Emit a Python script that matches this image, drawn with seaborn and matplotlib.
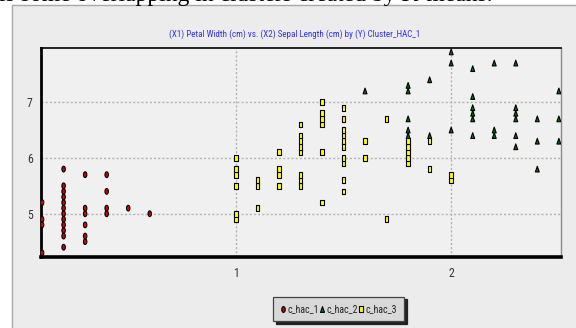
import numpy as np
import pandas as pd
import matplotlib
matplotlib.use("Agg")
import matplotlib.pyplot as plt
from matplotlib.path import Path
from matplotlib.patches import Rectangle
import matplotlib.transforms as mtransforms
from matplotlib.ticker import MultipleLocator
from matplotlib import font_manager
import seaborn as sns

# Petal width (cm) -> sepal lengths (cm) for each HAC cluster
c_hac_1 = {
    0.1: [4.3, 4.8, 4.9, 5.2],
    0.2: [4.4, 4.6, 4.7, 4.8, 4.9, 5.0, 5.1, 5.2, 5.3, 5.4, 5.5, 5.8],
    0.3: [4.5, 4.6, 4.8, 5.0, 5.1, 5.7],
    0.4: [5.0, 5.1, 5.4, 5.7],
    0.5: [5.1],
    0.6: [5.0],
}
c_hac_2 = {
    1.6: [7.2],
    1.8: [6.4, 6.5, 6.7, 7.2, 7.3],
    1.9: [6.4, 7.4],
    2.0: [6.5, 7.7, 7.9],
    2.1: [6.4, 6.7, 6.8, 6.9, 7.1, 7.6],
    2.2: [6.4, 6.5, 7.7],
    2.3: [6.2, 6.4, 6.7, 6.8, 6.9, 7.7],
    2.4: [5.8, 6.3, 6.7],
    2.5: [6.3, 6.7, 7.2],
}
c_hac_3 = {
    1.0: [4.9, 5.0, 5.5, 5.7, 5.8, 6.0],
    1.1: [5.1, 5.5, 5.6],
    1.2: [5.5, 5.7, 5.8, 6.1],
    1.3: [5.5, 5.6, 5.7, 6.1, 6.2, 6.3, 6.4, 6.6],
    1.4: [5.2, 6.1, 6.6, 6.7, 6.8, 7.0],
    1.5: [5.4, 5.6, 5.9, 6.0, 6.2, 6.3, 6.4, 6.5, 6.7, 6.9],
    1.6: [6.0, 6.3],
    1.7: [4.9, 6.7],
    1.8: [5.9, 6.0, 6.1, 6.2, 6.3],
    1.9: [5.8, 6.3],
    2.0: [5.6, 5.7],
}
cluster_names = ["c_hac_1", "c_hac_2", "c_hac_3"]
x_ticks = [1, 2]
y_ticks = [5, 6, 7]
title = "(X1) Petal Width (cm) vs. (X2) Sepal Length (cm) by (Y) Cluster_HAC_1"
caption = "is some overlapping in clusters created by K-means."

rows = []
for name, groups in zip(cluster_names, [c_hac_1, c_hac_2, c_hac_3]):
    for pw, sls in groups.items():
        for sl in sls:
            rows.append({"pw": pw, "sl": sl, "cluster": name})
df = pd.DataFrame(rows)

# Tall, narrow marker shapes
ellipse = Path.unit_circle().transformed(mtransforms.Affine2D().scale(0.6, 1.0))
triangle = Path([(-0.34, -0.5), (0.34, -0.5), (0.0, 0.5), (-0.34, -0.5)],
                [Path.MOVETO, Path.LINETO, Path.LINETO, Path.CLOSEPOLY])
rect = Path([(-0.32, -0.5), (0.32, -0.5), (0.32, 0.5), (-0.32, 0.5), (-0.32, -0.5)],
            [Path.MOVETO, Path.LINETO, Path.LINETO, Path.LINETO, Path.CLOSEPOLY])
markers = {"c_hac_1": ellipse, "c_hac_2": triangle, "c_hac_3": rect}
palette = {"c_hac_1": "#d40000", "c_hac_2": "#0a6a1a", "c_hac_3": "#ffff00"}

sns.set_style("white")

# Narrowest sans family available
available = {f.name for f in font_manager.fontManager.ttflist}
narrow_family = "DejaVu Sans"
narrow_stretch = "condensed"
for cand in ["Liberation Sans Narrow", "Arial Narrow", "Roboto Condensed",
             "Open Sans Condensed", "Noto Sans Condensed", "DejaVu Sans"]:
    if cand in available:
        narrow_family = cand
        break
plt.rcParams["font.family"] = [narrow_family, "DejaVu Sans"]
plt.rcParams["font.stretch"] = narrow_stretch


def narrow(size):
    return font_manager.FontProperties(family=[narrow_family, "DejaVu Sans"],
                                       stretch=narrow_stretch, size=size)


fig = plt.figure(figsize=(5.76, 3.28), dpi=100)
fig.patch.set_facecolor("white")

# Outer panel behind the axes
panel = Rectangle((12 / 576, -0.1), 0.99, 1 - 5 / 328 + 0.1, transform=fig.transFigure,
                  facecolor="#ececec", edgecolor="#a8a8a8", linewidth=1.0, zorder=-5)
fig.patches.append(panel)

# Line of document text above the panel, running off the top edge
fig.text(-0.002, 1 - 1.2 / 328, caption, family=["Liberation Serif", "DejaVu Serif"],
         fontsize=17, color="black", ha="left", va="baseline")

ax = fig.add_axes([41 / 576, 1 - 257 / 328, 520 / 576, 209.3 / 328])
ax.set_zorder(2)
ax.set_facecolor("#f0f0f0")

sns.scatterplot(data=df, x="pw", y="sl", hue="cluster", style="cluster",
                hue_order=cluster_names, style_order=cluster_names,
                palette=palette, markers=markers, s=17, edgecolor="black",
                linewidth=0.8, ax=ax, zorder=3)

ax.set_xlim(0.095, 2.51)
ax.set_ylim(4.225, 7.975)
ax.xaxis.set_major_locator(plt.FixedLocator(x_ticks))
ax.yaxis.set_major_locator(plt.FixedLocator(y_ticks))
ax.xaxis.set_minor_locator(MultipleLocator(0.25))
ax.yaxis.set_minor_locator(MultipleLocator(0.25))
ax.set_xticklabels([str(t) for t in x_ticks], fontproperties=narrow(8.5))
ax.set_yticklabels([str(t) for t in y_ticks], fontproperties=narrow(8.5))
ax.tick_params(which="major", direction="out", length=4, width=0.8, color="#606060",
               labelcolor="#333333", pad=2)
ax.tick_params(which="minor", direction="out", length=2.5, width=0.7, color="#909090")
ax.tick_params(axis="x", which="major", pad=3)
ax.grid(True, which="major", linestyle=(0, (1.5, 1.5)), color="#b4b4b4", linewidth=1.0)
ax.set_axisbelow(True)
ax.set_xlabel("")
ax.set_ylabel("")

for side, lw, col in [("left", 2.0, "black"), ("bottom", 2.6, "black"),
                      ("top", 1.2, "black"), ("right", 1.0, "#8a8a8a")]:
    ax.spines[side].set_visible(True)
    ax.spines[side].set_linewidth(lw)
    ax.spines[side].set_color(col)

title_size = 5.4 if narrow_family == "DejaVu Sans" else 6.5
fig.text(295 / 576, 1 - 34 / 328, title, color="#3232f0", fontproperties=narrow(title_size),
         ha="center", va="center")

handles, labels = ax.get_legend_handles_labels()
ax.get_legend().remove()
for h in handles:
    h.set_markersize(4.2)
legend_size = 6.3 if narrow_family == "DejaVu Sans" else 7.1
leg = fig.legend(handles, labels, loc="center", bbox_to_anchor=(338.5 / 576, 1 - 309 / 328),
                 ncol=3, frameon=True, fancybox=False, shadow={"color": "#222222", "alpha": 1.0},
                 prop=narrow(legend_size), handletextpad=0.15, columnspacing=0.0,
                 handlelength=0.6, borderpad=0.75, borderaxespad=0)
leg.set_zorder(5)
for t in leg.get_texts():
    t.set_color("#222222")
leg.get_frame().set_facecolor("#d8d8d8")
leg.get_frame().set_edgecolor("#444444")
leg.get_frame().set_linewidth(0.9)

fig.savefig("out.png", dpi=100)
